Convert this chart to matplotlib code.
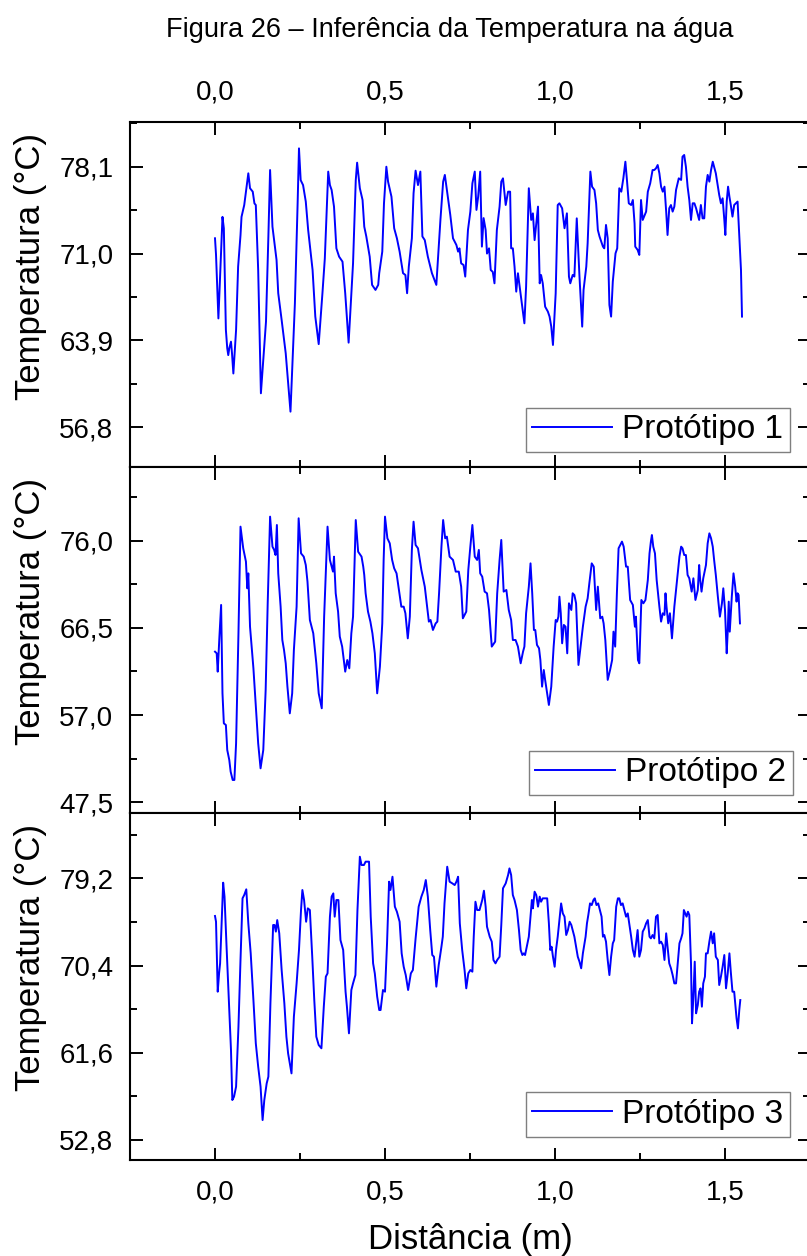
import matplotlib
matplotlib.use("Agg")
import matplotlib.pyplot as plt
from matplotlib.ticker import AutoMinorLocator, MultipleLocator, FuncFormatter

plt.rcParams['font.family'] = ['Liberation Sans', 'DejaVu Sans']

# Protótipo 1
x1 = [0.000, 0.003, 0.010, 0.022, 0.026, 0.032, 0.036, 0.039, 0.042, 0.047, 0.050, 0.054, 0.062, 0.068,
      0.075, 0.078, 0.086, 0.098, 0.103, 0.111, 0.116, 0.120, 0.127, 0.135, 0.142, 0.150, 0.157, 0.162,
      0.169, 0.181, 0.186, 0.196, 0.208, 0.222, 0.235, 0.243, 0.247, 0.252, 0.259, 0.267, 0.274, 0.287,
      0.295, 0.305, 0.316, 0.323, 0.333, 0.338, 0.343, 0.350, 0.357, 0.365, 0.375, 0.383, 0.393, 0.406,
      0.414, 0.418, 0.426, 0.434, 0.439, 0.445, 0.455, 0.462, 0.472, 0.480, 0.483, 0.492, 0.497, 0.504,
      0.509, 0.519, 0.527, 0.535, 0.543, 0.553, 0.560, 0.565, 0.570, 0.579, 0.584, 0.590, 0.597, 0.604,
      0.610, 0.617, 0.626, 0.638, 0.651, 0.663, 0.671, 0.676, 0.684, 0.692, 0.700, 0.710, 0.715, 0.719,
      0.724, 0.731, 0.736, 0.744, 0.751, 0.757, 0.764, 0.769, 0.774, 0.780, 0.785, 0.790, 0.796, 0.800,
      0.806, 0.811, 0.817, 0.822, 0.829, 0.837, 0.842, 0.847, 0.855, 0.862, 0.868, 0.871, 0.876, 0.881,
      0.886, 0.891, 0.896, 0.901, 0.906, 0.910, 0.915, 0.923, 0.930, 0.935, 0.940, 0.945, 0.950, 0.955,
      0.959, 0.964, 0.971, 0.979, 0.984, 0.989, 0.994, 1.002, 1.008, 1.013, 1.021, 1.028, 1.035, 1.041,
      1.045, 1.052, 1.057, 1.064, 1.072, 1.080, 1.084, 1.092, 1.096, 1.104, 1.109, 1.116, 1.121, 1.126,
      1.131, 1.141, 1.145, 1.150, 1.155, 1.160, 1.165, 1.170, 1.178, 1.183, 1.189, 1.195, 1.201, 1.207,
      1.212, 1.217, 1.224, 1.229, 1.234, 1.236, 1.243, 1.248, 1.253, 1.258, 1.268, 1.273, 1.280, 1.287,
      1.292, 1.297, 1.302, 1.307, 1.312, 1.317, 1.322, 1.327, 1.331, 1.336, 1.341, 1.346, 1.351, 1.356,
      1.364, 1.371, 1.375, 1.380, 1.385, 1.390, 1.395, 1.400, 1.405, 1.410, 1.415, 1.420, 1.424, 1.429,
      1.434, 1.439, 1.444, 1.449, 1.454, 1.459, 1.464, 1.468, 1.473, 1.483, 1.488, 1.493, 1.498, 1.501,
      1.505, 1.509, 1.513, 1.517, 1.522, 1.527, 1.532, 1.537, 1.542, 1.547, 1.550]
y1 = [72.25, 70.90, 65.70, 74.00, 73.07, 64.76, 63.26, 62.70, 63.26, 63.80, 62.85, 61.20, 64.76, 69.93,
      72.50, 74.00, 74.97, 77.56, 76.34, 76.06, 75.10, 74.97, 69.66, 59.58, 62.30, 65.44, 72.40, 77.83,
      73.20, 70.48, 67.76, 65.57, 62.85, 58.08, 66.94, 75.10, 79.60, 77.00, 76.60, 75.25, 72.93, 69.66,
      65.85, 63.60, 67.76, 70.60, 77.70, 76.60, 76.20, 74.84, 71.43, 70.75, 70.34, 67.76, 63.72, 70.20,
      77.00, 78.43, 76.34, 75.38, 73.20, 72.40, 70.75, 68.44, 68.03, 68.44, 69.40, 71.16, 75.10, 78.10,
      76.88, 75.65, 73.07, 72.25, 71.16, 69.40, 69.25, 67.76, 69.93, 72.25, 75.93, 77.78, 76.60, 77.70,
      72.40, 72.10, 70.75, 69.40, 68.44, 73.75, 76.88, 77.43, 75.80, 74.16, 72.25, 71.70, 71.16, 71.43,
      70.20, 70.07, 69.12, 72.93, 74.43, 76.74, 77.70, 74.57, 75.65, 77.70, 71.57, 73.90, 72.93, 71.00,
      71.43, 69.66, 69.50, 68.57, 72.93, 74.84, 76.88, 77.15, 74.97, 76.06, 76.06, 71.43, 71.43, 69.93,
      67.89, 69.39, 68.30, 67.21, 66.12, 65.30, 68.30, 76.34, 73.75, 74.29, 72.10, 73.47, 74.84, 68.57,
      69.25, 68.57, 66.66, 66.26, 65.85, 65.03, 63.53, 67.76, 74.97, 75.11, 74.70, 73.07, 74.29, 69.12,
      68.57, 69.25, 69.12, 73.88, 69.12, 65.03, 68.03, 69.93, 71.84, 77.70, 76.47, 76.20, 75.11, 72.93,
      72.39, 71.57, 71.43, 73.34, 72.25, 66.80, 65.85, 68.71, 71.02, 71.43, 76.34, 76.06, 77.15, 78.51,
      76.88, 75.11, 74.97, 75.38, 73.47, 71.57, 71.30, 70.89, 75.38, 73.75, 74.43, 76.06, 76.74, 77.83,
      77.83, 77.97, 78.24, 77.56, 76.47, 76.06, 76.47, 74.43, 72.52, 74.70, 74.97, 74.43, 74.84, 76.20,
      77.15, 77.02, 78.92, 79.06, 78.10, 76.47, 75.38, 73.75, 75.11, 75.11, 74.70, 74.16, 73.75, 74.97,
      73.88, 73.88, 76.47, 77.43, 76.88, 77.83, 78.51, 78.10, 77.56, 75.79, 75.11, 75.52, 73.75, 72.52,
      75.25, 76.47, 75.65, 74.97, 74.02, 74.97, 75.11, 75.25, 72.39, 69.66, 65.85]

# Protótipo 2
x2 = [0.000, 0.005, 0.008, 0.013, 0.018, 0.022, 0.026, 0.032, 0.036, 0.042, 0.046, 0.052, 0.057, 0.062,
      0.069, 0.075, 0.083, 0.091, 0.095, 0.098, 0.103, 0.113, 0.119, 0.127, 0.134, 0.142, 0.149, 0.155,
      0.162, 0.169, 0.174, 0.178, 0.182, 0.186, 0.193, 0.198, 0.203, 0.208, 0.213, 0.220, 0.227, 0.232,
      0.240, 0.246, 0.253, 0.261, 0.267, 0.272, 0.279, 0.289, 0.298, 0.305, 0.314, 0.321, 0.331, 0.338,
      0.347, 0.350, 0.355, 0.362, 0.367, 0.374, 0.383, 0.389, 0.395, 0.401, 0.406, 0.414, 0.421, 0.431,
      0.436, 0.439, 0.443, 0.450, 0.457, 0.463, 0.470, 0.477, 0.485, 0.492, 0.496, 0.500, 0.507, 0.514,
      0.521, 0.527, 0.534, 0.541, 0.548, 0.555, 0.560, 0.567, 0.573, 0.579, 0.584, 0.590, 0.597, 0.607,
      0.617, 0.624, 0.629, 0.634, 0.641, 0.649, 0.654, 0.659, 0.666, 0.671, 0.677, 0.682, 0.690, 0.700,
      0.708, 0.717, 0.724, 0.729, 0.734, 0.739, 0.745, 0.751, 0.757, 0.764, 0.771, 0.776, 0.780, 0.786,
      0.793, 0.800, 0.806, 0.814, 0.824, 0.830, 0.837, 0.842, 0.849, 0.857, 0.864, 0.871, 0.876, 0.884,
      0.891, 0.899, 0.906, 0.910, 0.915, 0.923, 0.928, 0.933, 0.938, 0.942, 0.947, 0.953, 0.957, 0.962,
      0.967, 0.971, 0.977, 0.982, 0.989, 0.996, 1.002, 1.006, 1.010, 1.013, 1.017, 1.021, 1.026, 1.031,
      1.036, 1.041, 1.048, 1.052, 1.057, 1.062, 1.069, 1.074, 1.082, 1.090, 1.096, 1.101, 1.108, 1.114,
      1.121, 1.126, 1.133, 1.139, 1.143, 1.148, 1.155, 1.162, 1.168, 1.172, 1.177, 1.182, 1.187, 1.192,
      1.197, 1.202, 1.209, 1.214, 1.221, 1.229, 1.235, 1.238, 1.244, 1.248, 1.254, 1.260, 1.266, 1.273,
      1.278, 1.282, 1.285, 1.289, 1.294, 1.299, 1.307, 1.312, 1.317, 1.322, 1.325, 1.328, 1.333, 1.338,
      1.344, 1.351, 1.356, 1.361, 1.366, 1.371, 1.375, 1.380, 1.385, 1.390, 1.395, 1.402, 1.407, 1.413,
      1.420, 1.424, 1.427, 1.431, 1.436, 1.444, 1.449, 1.454, 1.459, 1.464, 1.468, 1.473, 1.479, 1.485,
      1.491, 1.495, 1.500, 1.505, 1.508, 1.511, 1.514, 1.520, 1.525, 1.530, 1.534, 1.537, 1.540, 1.544]
y2 = [63.91, 63.73, 61.73, 65.55, 69.00, 59.37, 56.10, 55.92, 53.20, 52.11, 50.84, 49.93, 49.93, 53.92,
      65.91, 77.53, 75.17, 73.72, 70.81, 72.44, 66.63, 62.09, 58.65, 53.92, 51.20, 53.20, 59.74, 69.18,
      78.62, 75.35, 74.99, 74.44, 77.71, 72.44, 68.81, 65.18, 64.09, 62.64, 60.10, 57.19, 59.37, 64.09,
      68.81, 78.44, 74.62, 74.26, 73.35, 71.54, 67.36, 65.91, 62.64, 59.37, 57.74, 67.72, 77.53, 73.90,
      72.63, 74.26, 70.27, 68.27, 65.55, 64.46, 61.73, 63.00, 62.09, 65.91, 67.72, 78.25, 74.80, 74.26,
      73.17, 72.26, 70.27, 68.27, 67.18, 65.91, 63.73, 59.37, 62.27, 67.00, 73.90, 78.62, 76.26, 75.71,
      73.90, 72.99, 72.44, 70.63, 68.81, 68.81, 68.09, 65.36, 67.72, 74.99, 78.07, 75.53, 75.17, 72.81,
      70.99, 68.81, 67.18, 67.36, 66.27, 66.99, 67.18, 70.27, 75.35, 78.25, 76.26, 76.44, 74.26, 73.90,
      72.63, 72.63, 70.99, 67.54, 67.90, 68.27, 72.81, 75.35, 77.71, 74.26, 73.90, 74.99, 72.44, 72.08,
      70.45, 70.27, 68.45, 64.46, 65.00, 70.27, 73.90, 76.08, 70.45, 70.63, 68.45, 67.36, 65.18, 65.18,
      64.46, 62.64, 63.91, 64.46, 68.09, 70.99, 73.53, 70.27, 66.27, 66.27, 64.64, 64.28, 63.00, 60.10,
      61.91, 60.83, 59.37, 58.10, 60.10, 64.46, 67.36, 67.18, 67.72, 69.90, 68.09, 64.82, 66.82, 66.63,
      63.73, 69.18, 68.45, 70.27, 70.08, 69.18, 62.46, 64.09, 66.63, 68.81, 69.72, 71.36, 73.53, 73.17,
      68.45, 70.99, 67.54, 67.72, 66.99, 65.18, 60.83, 61.91, 63.00, 66.09, 64.46, 70.27, 75.17, 75.53,
      75.90, 75.35, 73.17, 73.17, 69.54, 69.00, 66.63, 67.72, 63.00, 62.64, 69.54, 69.18, 69.54, 71.72,
      74.62, 75.90, 76.62, 75.35, 74.62, 71.72, 68.81, 67.18, 68.09, 67.91, 70.27, 68.81, 67.00, 68.09,
      65.36, 68.81, 70.63, 72.44, 74.26, 75.35, 75.17, 74.44, 74.44, 72.26, 71.90, 70.45, 71.90, 69.54,
      70.63, 73.35, 71.72, 70.45, 71.90, 73.35, 75.71, 76.80, 76.26, 75.35, 73.90, 72.26, 69.90, 67.72,
      69.18, 70.81, 68.45, 63.73, 66.09, 69.36, 66.09, 69.90, 72.44, 70.99, 69.36, 70.27, 70.08, 66.99]

# Protótipo 3
x3 = [0.000, 0.003, 0.008, 0.012, 0.015, 0.020, 0.024, 0.028, 0.034, 0.042, 0.047, 0.051, 0.056, 0.062,
      0.069, 0.075, 0.081, 0.086, 0.092, 0.098, 0.105, 0.113, 0.120, 0.127, 0.134, 0.140, 0.145, 0.152,
      0.157, 0.163, 0.171, 0.175, 0.179, 0.183, 0.189, 0.196, 0.204, 0.210, 0.215, 0.220, 0.225, 0.232,
      0.240, 0.247, 0.253, 0.257, 0.262, 0.268, 0.273, 0.279, 0.286, 0.292, 0.298, 0.305, 0.313, 0.320,
      0.326, 0.331, 0.338, 0.343, 0.348, 0.352, 0.357, 0.363, 0.369, 0.377, 0.384, 0.388, 0.394, 0.401,
      0.406, 0.413, 0.419, 0.426, 0.431, 0.438, 0.443, 0.453, 0.458, 0.465, 0.470, 0.477, 0.483, 0.487,
      0.494, 0.500, 0.506, 0.512, 0.516, 0.522, 0.529, 0.535, 0.543, 0.549, 0.555, 0.561, 0.568, 0.576,
      0.582, 0.590, 0.599, 0.607, 0.614, 0.620, 0.626, 0.633, 0.639, 0.644, 0.651, 0.658, 0.666, 0.670,
      0.675, 0.683, 0.690, 0.698, 0.705, 0.710, 0.715, 0.720, 0.727, 0.734, 0.739, 0.745, 0.751, 0.757,
      0.761, 0.766, 0.771, 0.778, 0.786, 0.791, 0.796, 0.800, 0.808, 0.814, 0.819, 0.825, 0.830, 0.837,
      0.842, 0.847, 0.855, 0.862, 0.866, 0.871, 0.876, 0.881, 0.888, 0.894, 0.899, 0.904, 0.908, 0.912,
      0.917, 0.923, 0.927, 0.932, 0.935, 0.940, 0.945, 0.950, 0.955, 0.959, 0.964, 0.971, 0.977, 0.982,
      0.986, 0.990, 0.994, 0.999, 1.003, 1.008, 1.013, 1.018, 1.023, 1.028, 1.033, 1.038, 1.043, 1.048,
      1.052, 1.057, 1.062, 1.067, 1.072, 1.077, 1.082, 1.090, 1.094, 1.098, 1.103, 1.108, 1.113, 1.117,
      1.122, 1.127, 1.132, 1.137, 1.141, 1.145, 1.150, 1.155, 1.160, 1.165, 1.170, 1.174, 1.180, 1.185,
      1.189, 1.194, 1.199, 1.204, 1.209, 1.214, 1.219, 1.224, 1.229, 1.234, 1.238, 1.243, 1.248, 1.253,
      1.258, 1.263, 1.268, 1.273, 1.278, 1.282, 1.287, 1.292, 1.297, 1.302, 1.307, 1.312, 1.317, 1.322,
      1.327, 1.331, 1.336, 1.341, 1.346, 1.351, 1.356, 1.361, 1.366, 1.371, 1.375, 1.379, 1.383, 1.387,
      1.391, 1.395, 1.400, 1.403, 1.407, 1.411, 1.415, 1.420, 1.424, 1.428, 1.432, 1.436, 1.441, 1.444,
      1.449, 1.454, 1.459, 1.464, 1.468, 1.473, 1.479, 1.483, 1.488, 1.493, 1.498, 1.503, 1.508, 1.513,
      1.517, 1.522, 1.527, 1.530, 1.534, 1.538, 1.542, 1.545]
y3 = [75.40, 74.82, 67.76, 69.61, 70.62, 74.99, 78.76, 77.35, 72.30, 65.91, 61.88, 56.83, 57.17, 58.18,
      64.23, 70.96, 77.18, 77.52, 78.09, 74.66, 71.63, 66.92, 62.55, 60.20, 58.18, 54.81, 56.83, 58.51,
      59.19, 66.58, 74.49, 74.49, 73.82, 74.99, 73.65, 69.95, 66.58, 63.22, 61.54, 60.53, 59.52, 65.24,
      68.60, 71.97, 76.00, 78.02, 77.01, 74.82, 76.17, 76.00, 71.29, 66.92, 63.22, 62.38, 62.05, 66.25,
      69.28, 69.61, 75.33, 77.35, 77.68, 75.33, 77.01, 77.01, 72.97, 71.97, 67.76, 66.25, 63.56, 67.93,
      68.60, 69.44, 76.00, 81.38, 80.54, 80.54, 80.88, 80.88, 75.33, 70.62, 69.61, 67.26, 65.91, 65.91,
      67.93, 67.76, 72.64, 78.86, 78.02, 79.36, 76.34, 75.83, 74.82, 71.63, 70.28, 69.44, 67.93, 69.61,
      69.95, 73.14, 76.34, 77.35, 78.02, 79.03, 77.35, 73.98, 71.46, 71.29, 68.27, 70.45, 72.30, 73.31,
      76.67, 80.37, 78.86, 78.69, 78.52, 78.86, 79.36, 74.66, 71.97, 69.95, 68.10, 69.61, 69.95, 69.78,
      73.31, 76.84, 76.00, 76.00, 77.01, 77.95, 76.34, 74.32, 73.31, 72.81, 70.96, 70.62, 70.96, 71.29,
      74.49, 78.19, 78.69, 79.53, 80.20, 79.53, 77.51, 77.01, 76.00, 73.98, 71.97, 71.46, 71.63, 71.46,
      72.30, 73.31, 74.99, 77.01, 76.17, 77.85, 77.51, 76.34, 77.35, 76.84, 77.18, 77.18, 77.18, 74.66,
      71.97, 72.30, 71.29, 70.28, 71.97, 73.31, 74.99, 76.67, 75.66, 75.33, 73.48, 73.98, 74.82, 74.49,
      73.98, 73.31, 72.30, 71.29, 70.79, 70.12, 71.63, 73.31, 74.66, 75.50, 76.67, 76.50, 77.01, 77.18,
      76.50, 76.67, 76.00, 75.33, 73.31, 73.48, 72.81, 70.96, 69.44, 71.29, 72.64, 72.97, 76.34, 77.18,
      77.18, 76.50, 76.67, 76.00, 75.33, 75.66, 74.49, 73.31, 71.97, 71.29, 72.47, 73.98, 71.29, 71.97,
      73.82, 74.15, 74.66, 74.99, 73.31, 73.14, 73.48, 73.14, 75.33, 75.50, 72.64, 72.81, 72.47, 70.96,
      73.65, 72.30, 70.62, 70.12, 69.44, 68.60, 68.60, 70.62, 72.64, 73.14, 73.65, 76.00, 75.66, 75.33,
      75.83, 75.50, 70.62, 64.57, 67.26, 70.79, 65.58, 66.42, 67.76, 68.10, 66.25, 68.60, 69.28, 71.63,
      71.63, 72.81, 73.82, 72.64, 73.65, 71.29, 70.96, 68.43, 69.28, 70.28, 71.46, 68.10, 69.61, 71.63,
      69.78, 67.76, 67.76, 66.58, 65.07, 64.06, 65.91, 66.92]

series = [(x1, y1, "Protótipo 1"), (x2, y2, "Protótipo 2"), (x3, y3, "Protótipo 3")]
yticks = [[56.8, 63.9, 71.0, 78.1], [47.5, 57.0, 66.5, 76.0], [52.8, 61.6, 70.4, 79.2]]
ylims = [(53.58, 81.78), (46.3, 84.06), (50.78, 85.76)]
xlim = (-0.25, 1.75)

fig = plt.figure(figsize=(8.07, 12.56), dpi=100)
W, H = 807.0, 1256.0
left, right = 130, 810
tops = [121.7, 466.7, 813.3]
bottoms = [466.7, 813.3, 1160.0]
leg_anchor = [(0.9706, 0.0426), (0.975, 0.053), (0.9706, 0.067)]

comma = FuncFormatter(lambda v, p: ("%.1f" % v).replace(".", ","))

axes = []
for i, (xs, ys, name) in enumerate(series):
    ax = fig.add_axes([left / W, 1 - bottoms[i] / H, (right - left) / W, (bottoms[i] - tops[i]) / H])
    ax.plot(xs, ys, color="#0000ff", lw=1.4, label=name)
    ax.set_xlim(*xlim)
    ax.set_ylim(*ylims[i])
    ax.set_yticks(yticks[i])
    ax.yaxis.set_minor_locator(AutoMinorLocator(2))
    ax.yaxis.set_major_formatter(comma)
    ax.xaxis.set_major_locator(MultipleLocator(0.5))
    ax.xaxis.set_minor_locator(MultipleLocator(0.25))
    ax.xaxis.set_major_formatter(comma)
    for s in ax.spines.values():
        s.set_linewidth(1.5)
    ax.tick_params(which="both", direction="in", top=True, bottom=True, left=True, right=True,
                   width=1.4, labelsize=20)
    ax.tick_params(which="major", length=9)
    ax.tick_params(which="minor", length=5)
    ax.tick_params(axis="y", pad=12)
    ax.tick_params(axis="x", labelbottom=(i == 2), labeltop=(i == 0))
    if i == 0:
        ax.tick_params(axis="x", pad=12)
    else:
        ax.tick_params(axis="x", pad=14)
    leg = ax.legend(loc="lower right", bbox_to_anchor=leg_anchor[i], borderaxespad=0,
                    fontsize=24, fancybox=False, framealpha=1, edgecolor="#7f7f7f",
                    handlelength=2.4, handletextpad=0.3, borderpad=0.2)
    leg.get_frame().set_linewidth(1.0)
    fig.text(31 / W, 1 - (tops[i] + 11) / H, "Temperatura (°C)", rotation=90,
             ha="center", va="top", fontsize=25)
    axes.append(ax)

fig.text(450 / W, 1 - 30 / H, "Figura 26 – Inferência da Temperatura na água",
         ha="center", va="center", fontsize=19.5)
fig.text(470 / W, 1 - 1240 / H, "Distância (m)", ha="center", va="center", fontsize=25)

fig.savefig("out.png", dpi=100)
